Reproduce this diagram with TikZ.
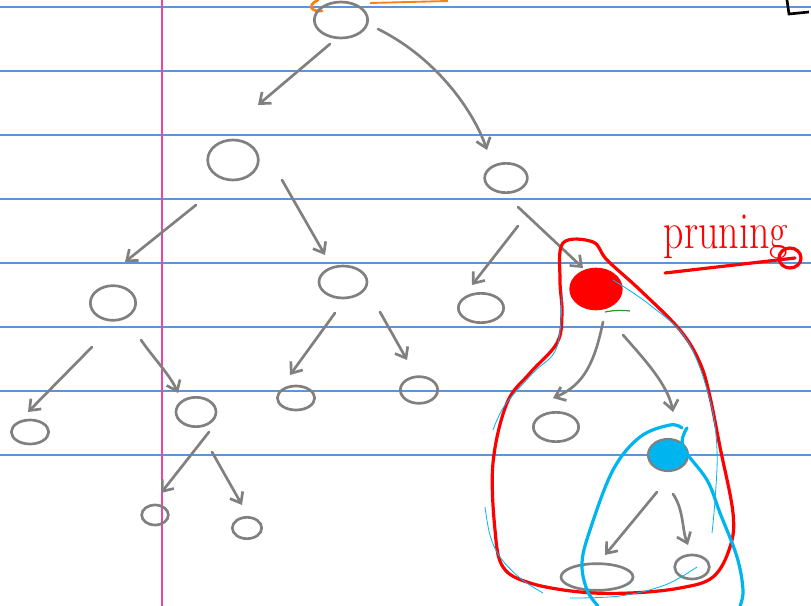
\documentclass[tikz,border=0pt]{standalone}
\usetikzlibrary{shapes.geometric,arrows.meta,calc}
\definecolor{paperline}{RGB}{90,150,215}
\definecolor{margin}{RGB}{235,70,160}
\definecolor{ink}{RGB}{128,128,128}
\definecolor{hlblue}{RGB}{0,180,240}
\definecolor{orng}{RGB}{250,130,20}
\definecolor{grn}{RGB}{40,150,40}
\tikzset{
  nd/.style={ellipse, draw=ink, line width=2pt, inner sep=0pt, minimum width=30, minimum height=21},
  arr/.style={draw=ink, line width=2pt, line cap=round, -{Straight Barb[length=7pt,width=11pt]}},
  redline/.style={draw=red, line width=2.4pt, line cap=round, line join=round},
  blueline/.style={draw=hlblue, line width=2.4pt, line cap=round, line join=round},
  thinblue/.style={draw=hlblue, line width=0.6pt},
}
\begin{document}
\begin{tikzpicture}[x=0.75pt,y=-0.75pt]
\useasboundingbox (0,0) rectangle (811,606);
\fill[white] (0,0) rectangle (811,606);
% paper
\foreach \yy in {7,71,135,199,263,327,391,455}
  \draw[paperline, line width=0.9pt] (0,\yy) -- (811,\yy);
\draw[margin, line width=1.1pt] (162,0) -- (162,606);
% top marks
\draw[orng, line width=2pt, line cap=round] (318,0) .. controls (306,6) and (312,12) .. (322,11);
\draw[orng, line width=1.4pt] (370,3) -- (448,1);
\draw[black, line width=2pt] (787,0) -- (789,14) -- (809,12);
% nodes
\node[nd, minimum width=40, minimum height=27] (R) at (341,20) {};
\node[nd, minimum width=38, minimum height=30] (A) at (233,160) {};
\node[nd, minimum width=32, minimum height=22] (B) at (506,178) {};
\node[nd, minimum width=34, minimum height=26] (C) at (113,303) {};
\node[nd, minimum width=36, minimum height=24] (D) at (343,282) {};
\node[nd, minimum width=34, minimum height=22] (E) at (481,308) {};
\node[ellipse, draw=red, fill=red, line width=2pt, minimum width=38, minimum height=30, inner sep=0pt] (F) at (596,289) {};
\node[nd, minimum width=28, minimum height=18] (G) at (30,432) {};
\node[nd, minimum width=30, minimum height=22] (H) at (196,412) {};
\node[nd, minimum width=28, minimum height=18] (I) at (296,398) {};
\node[nd, minimum width=28, minimum height=20] (J) at (419,390) {};
\node[nd, minimum width=34, minimum height=22] (K) at (556,427) {};
\node[ellipse, draw=ink, fill=hlblue, line width=1.6pt, minimum width=30, minimum height=24, inner sep=0pt] (L) at (668,455) {};
\node[nd, minimum width=20, minimum height=15] (M) at (155,515) {};
\node[nd, minimum width=22, minimum height=16] (N) at (247,528) {};
\node[nd, minimum width=54, minimum height=20] (O) at (597,577) {};
\node[nd, minimum width=26, minimum height=18] (P) at (692,567) {};
% edges
\draw[arr] ([shift={(-11,24)}]R.center) -- ([shift={(25,-55)}]A.center);
\draw[arr] ([shift={(37,9)}]R.center) .. controls (440,60) and (475,115) .. ([shift={(-19,-28)}]B.center);
\draw[arr] ([shift={(-37,45)}]A.center) -- ([shift={(12,-41)}]C.center);
\draw[arr] ([shift={(49,20)}]A.center) -- ([shift={(-18,-27)}]D.center);
\draw[arr] ([shift={(12,48)}]B.center) -- ([shift={(-9,-23)}]E.center);
\draw[arr] ([shift={(12,29)}]B.center) -- ([shift={(-13,-21)}]F.center);
\draw[arr] ([shift={(-21,44)}]C.center) -- ([shift={(-2,-20)}]G.center);
\draw[arr] ([shift={(28,37)}]C.center) .. controls (155,360) and (170,375) .. ([shift={(-18,-19)}]H.center);
\draw[arr] ([shift={(-8,31)}]D.center) -- ([shift={(-6,-23)}]I.center);
\draw[arr] ([shift={(37,30)}]D.center) -- ([shift={(-12,-30)}]J.center);
\draw[arr] ([shift={(13,20)}]H.center) -- ([shift={(6,-22)}]M.center);
\draw[arr] ([shift={(16,40)}]H.center) -- ([shift={(-5,-23)}]N.center);
\draw[arr] ([shift={(7,33)}]F.center) .. controls (595,360) and (585,385) .. ([shift={(-3,-29)}]K.center);
\draw[arr] ([shift={(27,46)}]F.center) .. controls (645,360) and (668,385) .. ([shift={(5,-43)}]L.center);
\draw[arr] ([shift={(-11,37)}]L.center) -- ([shift={(8,-22)}]O.center);
\draw[arr] ([shift={(5,39)}]L.center) .. controls (684,510) and (682,530) .. ([shift={(-4,-22)}]P.center);
% green mark
\draw[grn, line width=0.9pt] (605,312) .. controls (615,310) and (622,310) .. (630,311);
% red blob
\draw[redline] plot[smooth cycle, tension=0.6] coordinates {
 (563,243) (593,242) (607,260) (640,290) (680,330) (700,363) (710,397)
 (720,447) (733,513) (730,547) (713,577) (680,588) (630,593) (580,592)
 (530,583) (503,567) (495,530) (493,463) (507,403) (530,373) (557,343)
 (562,313) (560,280)};
% thin blue highlights
\draw[thinblue] plot[smooth, tension=0.6] coordinates {(613,280) (650,305) (687,340) (710,400) (717,450) (715,500) (712,533)};
\draw[thinblue] plot[smooth, tension=0.6] coordinates {(562,293) (557,347) (533,373) (505,405) (493,430)};
\draw[thinblue] plot[smooth, tension=0.6] coordinates {(485,507) (490,535) (500,557) (520,578) (543,593)};
\draw[thinblue] plot[smooth, tension=0.6] coordinates {(570,598) (620,596) (665,585) (697,567)};
% blue blob
\draw[blueline] plot[smooth, tension=0.6] coordinates {
 (682,428) (670,425) (640,437) (613,470) (590,530) (582,563) (587,590) (598,606)};
\draw[blueline] plot[smooth, tension=0.6] coordinates {
 (687,428) (683,447) (707,480) (720,513) (737,557) (743,590) (740,606)};
% pruning label
\node[text=red, font=\fontsize{30}{34}\selectfont, anchor=base, inner sep=0pt] (lbl) at (726,249) {\scalebox{1}[1.3]{pruning}};
\coordinate (ul1) at (665,273);
\coordinate (ul2) at (795,258);
\draw[redline] (ul1) -- (ul2);
\draw[redline] (790,258) circle[x radius=11, y radius=10];
\end{tikzpicture}
\end{document}
